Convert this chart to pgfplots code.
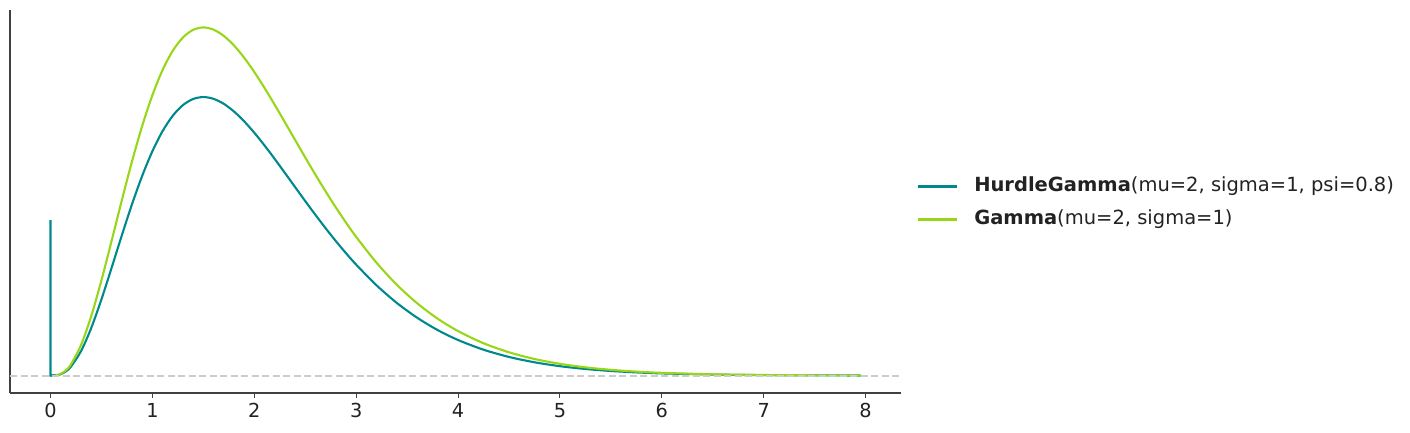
\documentclass[border=0pt]{standalone}
\usepackage{pgfplots}
\pgfplotsset{compat=1.18}
\usepackage{fontspec}
\setmainfont{DejaVu Sans}
\definecolor{cteal}{RGB}{0,137,140}
\definecolor{cgreen}{RGB}{152,214,24}
\definecolor{cspine}{RGB}{64,64,64}
\definecolor{ctext}{RGB}{34,34,34}
\definecolor{cdash}{RGB}{204,204,204}
\begin{document}
\begin{tikzpicture}
\useasboundingbox (-10pt,-40pt) rectangle (1400pt,393pt);
\begin{axis}[
  scale only axis,
  width=891pt, height=383pt,
  xmin=-0.3975, xmax=8.3475,
  ymin=-0.0224, ymax=0.4705,
  axis lines=left,
  axis line style={-, cspine, line width=1.1pt},
  ytick=\empty,
  xtick={0,1,2,3,4,5,6,7,8},
  tick align=outside,
  major tick length=5pt,
  tick style={cspine, line width=1.1pt},
  /pgf/number format/assume math mode=true,
  ticklabel style={font=\fontsize{19.3}{22}\selectfont, text=ctext},
  xticklabel style={yshift=-2pt},
  legend cell align=left,
  legend style={draw=none, fill=none, at={(1.0179,0.496)}, anchor=west,
    inner sep=0pt, row sep=15pt, column sep=16pt,
    nodes={inner sep=0pt, text height=14pt, text depth=4pt, font=\fontsize{19.5}{22}\selectfont, text=ctext}},
  legend image code/.code={\draw[#1] (0pt,0pt) -- (39pt,0pt);},
]
\addplot[cteal, line width=2.1pt, smooth, tension=0.5] coordinates {
(0,0) (0.05,0.000242) (0.1,0.001746) (0.15,0.005334) (0.2,0.011440)
(0.3,0.031611) (0.4,0.061348) (0.5,0.098101) (0.6,0.138790) (0.7,0.180443)
(0.8,0.220526) (0.9,0.257073) (1.0,0.288715) (1.1,0.314622) (1.2,0.334423)
(1.3,0.348117) (1.4,0.355974) (1.5,0.358467) (1.6,0.356184) (1.7,0.349783)
(1.8,0.339954) (1.9,0.327345) (2.0,0.312593) (2.1,0.296273) (2.2,0.278881)
(2.3,0.260913) (2.4,0.242713) (2.5,0.224600) (2.6,0.206862) (2.7,0.189670)
(2.8,0.173181) (2.9,0.157546) (3.0,0.142790) (3.2,0.116182) (3.4,0.093407)
(3.6,0.074351) (3.8,0.058583) (4.0,0.045802) (4.25,0.033322) (4.5,0.023990)
(4.75,0.017114) (5.0,0.012106) (5.25,0.008501) (5.5,0.005928) (5.75,0.004109)
(6.0,0.002831) (6.5,0.001324) (7.0,0.000609) (7.5,0.000275) (7.95,0.000133)
};
\addlegendentry{\textbf{HurdleGamma}(mu=2, sigma=1, psi=0.8)}
\addplot[cgreen, line width=2.1pt, smooth, tension=0.5] coordinates {
(0,0) (0.05,0.000302) (0.1,0.002183) (0.15,0.006667) (0.2,0.014300)
(0.3,0.039514) (0.4,0.076685) (0.5,0.122626) (0.6,0.173488) (0.7,0.225554)
(0.8,0.275657) (0.9,0.321341) (1.0,0.360894) (1.1,0.393278) (1.2,0.418029)
(1.3,0.435146) (1.4,0.444967) (1.5,0.448084) (1.6,0.445230) (1.7,0.437229)
(1.8,0.424943) (1.9,0.409181) (2.0,0.390741) (2.1,0.370341) (2.2,0.348601)
(2.3,0.326141) (2.4,0.303391) (2.5,0.280750) (2.6,0.258578) (2.7,0.237088)
(2.8,0.216476) (2.9,0.196933) (3.0,0.178488) (3.2,0.145228) (3.4,0.116759)
(3.6,0.092939) (3.8,0.073229) (4.0,0.057252) (4.25,0.041652) (4.5,0.029988)
(4.75,0.021392) (5.0,0.015133) (5.25,0.010626) (5.5,0.007410) (5.75,0.005136)
(6.0,0.003539) (6.5,0.001655) (7.0,0.000761) (7.5,0.000344) (7.95,0.000167)
};
\addlegendentry{\textbf{Gamma}(mu=2, sigma=1)}
\addplot[cteal, line width=2.1pt, forget plot] coordinates {(0,0.2) (0,0) (0.05,0.000242)};
\addplot[cdash, line width=2pt, dash pattern=on 7pt off 3.5pt, forget plot] coordinates {(-0.3975,0) (8.3475,0)};
\end{axis}
\end{tikzpicture}
\end{document}
